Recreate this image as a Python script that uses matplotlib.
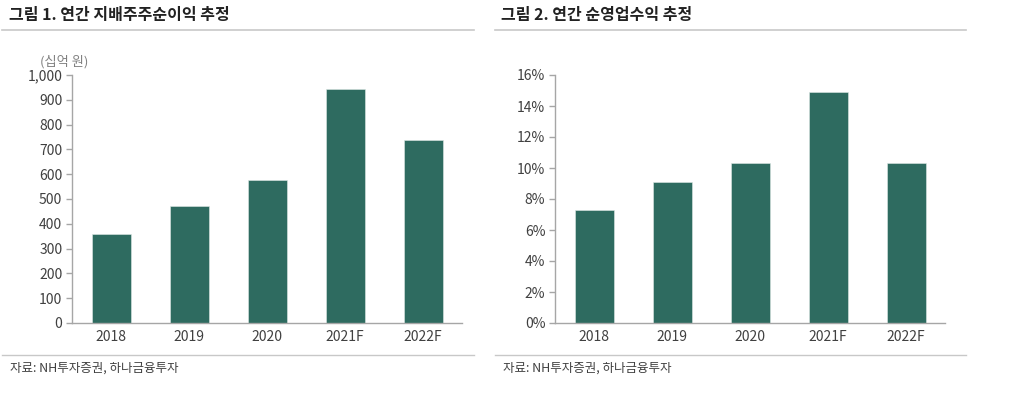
import matplotlib
matplotlib.use("Agg")
import matplotlib.pyplot as plt
from matplotlib.ticker import FuncFormatter, MultipleLocator
from matplotlib.lines import Line2D

plt.rcParams['font.family'] = ['Noto Sans CJK KR', 'DejaVu Sans']

categories = ["2018", "2019", "2020", "2021F", "2022F"]
net_income = [359, 473, 577, 944, 738]          # 십억 원
net_op_margin = [7.3, 9.1, 10.3, 14.9, 10.3]    # %

title1 = "그림 1. 연간 지배주주순이익 추정"
title2 = "그림 2. 연간 순영업수익 추정"
unit1 = "(십억 원)"
source = "자료: NH투자증권, 하나금융투자"

BAR = "#2e6b60"
SPINE = "#a6a6a6"
TXT = "#404040"

W, H = 1024, 393
fig = plt.figure(figsize=(W/100, H/100), dpi=100)

def fx(x): return x / W
def fy(y): return 1 - y / H

def setup(ax, values, ylim, step, fmt):
    x = range(len(categories))
    ax.bar(x, values, width=0.5, color=BAR, edgecolor="#dfe9e6", linewidth=0.4)
    ax.set_xlim(-0.5, len(categories) - 0.5)
    ax.set_ylim(0, ylim)
    ax.yaxis.set_major_locator(MultipleLocator(step))
    ax.yaxis.set_major_formatter(FuncFormatter(fmt))
    ax.set_xticks(list(x))
    ax.set_xticklabels(categories)
    for s in ["top", "right"]:
        ax.spines[s].set_visible(False)
    for s in ["left", "bottom"]:
        ax.spines[s].set_color(SPINE)
        ax.spines[s].set_linewidth(1.0)
    ax.tick_params(axis="y", colors=SPINE, labelcolor=TXT, labelsize=10,
                   length=4, width=1, direction="out", pad=3)
    ax.tick_params(axis="x", length=0, labelcolor=TXT, labelsize=10, pad=5)
    ax.set_facecolor("none")

ax1 = fig.add_axes([fx(72), fy(323), fx(462 - 72), (323 - 75) / H])
setup(ax1, net_income, 1000, 100, lambda v, p: f"{int(v):,}")

ax2 = fig.add_axes([fx(555), fy(323), fx(945 - 555), (323 - 75) / H])
setup(ax2, net_op_margin, 16, 2, lambda v, p: f"{int(v)}%")

# titles
fig.text(fx(9), fy(15), title1, fontsize=11.5, fontweight="bold", color="#222222", va="center")
fig.text(fx(501), fy(15), title2, fontsize=11.5, fontweight="bold", color="#222222", va="center")

# separator lines
for (x0, x1) in [(2, 474), (495, 966)]:
    fig.add_artist(Line2D([fx(x0), fx(x1)], [fy(30), fy(30)], color="#c8c8c8", lw=1.2))
    fig.add_artist(Line2D([fx(x0), fx(x1)], [fy(355), fy(355)], color="#c8c8c8", lw=1.0))

# unit label
fig.text(fx(40), fy(62), unit1, fontsize=9.5, color="#808080", va="center")

# sources
fig.text(fx(10), fy(368), source, fontsize=9, color=TXT, va="center")
fig.text(fx(503), fy(368), source, fontsize=9, color=TXT, va="center")

fig.savefig("out.png", dpi=100, facecolor="white")
